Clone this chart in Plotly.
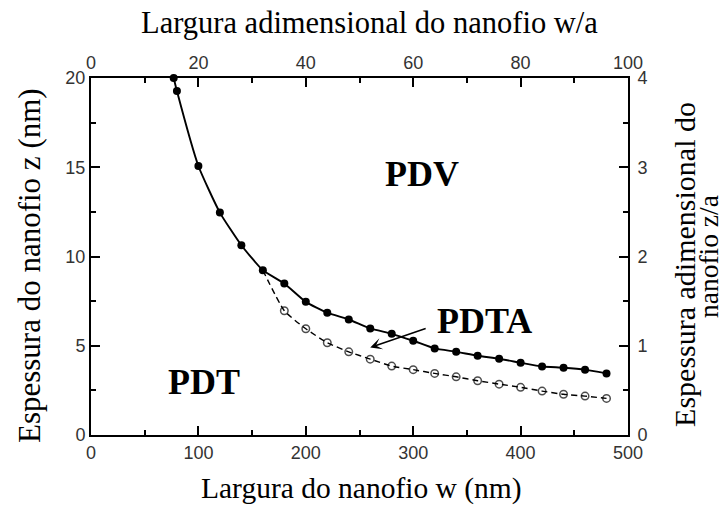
import plotly.graph_objects as go

# Nanowire width w (nm) and thickness z (nm) along the phase boundaries
w_upper = [77, 80, 100, 120, 140, 160, 180, 200, 220, 240, 260, 280, 300,
           320, 340, 360, 380, 400, 420, 440, 460, 480]
z_upper = [20.0, 19.27, 15.07, 12.46, 10.63, 9.23, 8.49, 7.46, 6.85, 6.47,
           5.97, 5.67, 5.28, 4.85, 4.66, 4.44, 4.27, 4.05, 3.84, 3.77, 3.66, 3.45]

w_lower = [160, 180, 200, 220, 240, 260, 280, 300, 320, 340, 360, 380, 400,
           420, 440, 460, 480]
z_lower = [9.23, 6.96, 5.95, 5.17, 4.66, 4.25, 3.86, 3.66, 3.45, 3.26, 3.04,
           2.85, 2.67, 2.46, 2.28, 2.18, 2.05]

# Region labels: text, w, z
region_labels = ["PDV", "PDT", "PDTA"]
region_w = [308, 105, 366]
region_z = [14.6, 2.95, 6.4]

# PDTA arrow: tail and head in data units
arrow_tail = (313, 6.0)
arrow_head = (260, 4.9)

x_ticks = [0, 100, 200, 300, 400, 500]
y_ticks = [0, 5, 10, 15, 20]
x2_ticks = [0, 20, 40, 60, 80, 100]
y2_ticks = [0, 1, 2, 3, 4]

SERIF = "Liberation Serif"
SANS = "Liberation Sans"

fig = go.Figure()

# Dashed lower boundary with open circles (first point hidden under the filled one)
fig.add_trace(go.Scatter(
    x=w_lower, y=z_lower, mode="lines+markers",
    line=dict(color="black", width=1.4, dash="6px,4px", shape="spline", smoothing=0.5),
    marker=dict(symbol="circle-open", size=[0] + [7.5] * (len(w_lower) - 1),
                color="black", line=dict(width=1.5)),
    cliponaxis=False, showlegend=False, hoverinfo="skip",
))

# Solid upper boundary with filled circles
fig.add_trace(go.Scatter(
    x=w_upper, y=z_upper, mode="lines+markers",
    line=dict(color="black", width=1.9, shape="spline", smoothing=0.5),
    marker=dict(symbol="circle", size=8, color="black"),
    cliponaxis=False, showlegend=False, hoverinfo="skip",
))

# Carrier trace for the dimensionless (top / right) axes
fig.add_trace(go.Scatter(
    x=[x2_ticks[0], x2_ticks[-1]], y=[y2_ticks[0], y2_ticks[-1]],
    xaxis="x2", yaxis="y2", mode="markers",
    marker=dict(opacity=0), showlegend=False, hoverinfo="skip",
))

tick_font = dict(family=SANS, size=18, color="#333333")
axis_common = dict(
    showgrid=False, zeroline=False, showline=True, linecolor="black",
    linewidth=2, ticks="inside", ticklen=9, tickwidth=1.5, tickcolor="black",
    tickfont=tick_font,
)

def minor(step):
    return dict(dtick=step, ticks="inside", ticklen=5, tickwidth=1.5, tickcolor="black")

fig.update_layout(
    width=725, height=507,
    margin=dict(l=91, r=97, t=78, b=72),
    paper_bgcolor="white", plot_bgcolor="white",
    xaxis=dict(range=[0, 500], tickvals=x_ticks, minor=minor(50), **axis_common),
    yaxis=dict(range=[0, 20], tickvals=y_ticks, minor=minor(2.5), **axis_common),
    xaxis2=dict(range=[0, 100], tickvals=x2_ticks, overlaying="x", side="top",
                anchor="y", minor=minor(10), **axis_common),
    yaxis2=dict(range=[0, 4], tickvals=y2_ticks, overlaying="y", side="right",
                anchor="x", minor=minor(0.5), ticklabelstandoff=4, **axis_common),
)

def title(text, x, y, size, angle=0):
    return dict(text=text, x=x, y=y, xref="paper", yref="paper", showarrow=False,
                font=dict(family=SERIF, size=size, color="black"),
                textangle=angle, xanchor="center", yanchor="middle")

annotations = [
    title("Largura adimensional do nanofio w/a", 0.518, 1.155, 30.5),
    title("Largura do nanofio w (nm)", 0.503, -0.151, 29.5),
    title("Espessura do nanofio z (nm)", -0.1155, 0.476, 31, -90),
    title("Espessura adimensional do", 1.106, 0.479, 30, -90),
    title("nanofio z/a", 1.150, 0.50, 27.5, -90),
]

label_font = dict(family=SERIF, size=36, color="black")
for txt, wx, zy in zip(region_labels, region_w, region_z):
    annotations.append(dict(text=f"<b>{txt}</b>", x=wx, y=zy, xref="x", yref="y",
                            showarrow=False, font=label_font,
                            xanchor="center", yanchor="middle"))

annotations.append(dict(
    text="", x=arrow_head[0], y=arrow_head[1], xref="x", yref="y",
    ax=arrow_tail[0], ay=arrow_tail[1], axref="x", ayref="y",
    showarrow=True, arrowhead=3, arrowsize=1.3, arrowwidth=1.5,
    arrowcolor="black", standoff=0,
))

fig.update_layout(annotations=annotations)

fig.write_html("out.html")
